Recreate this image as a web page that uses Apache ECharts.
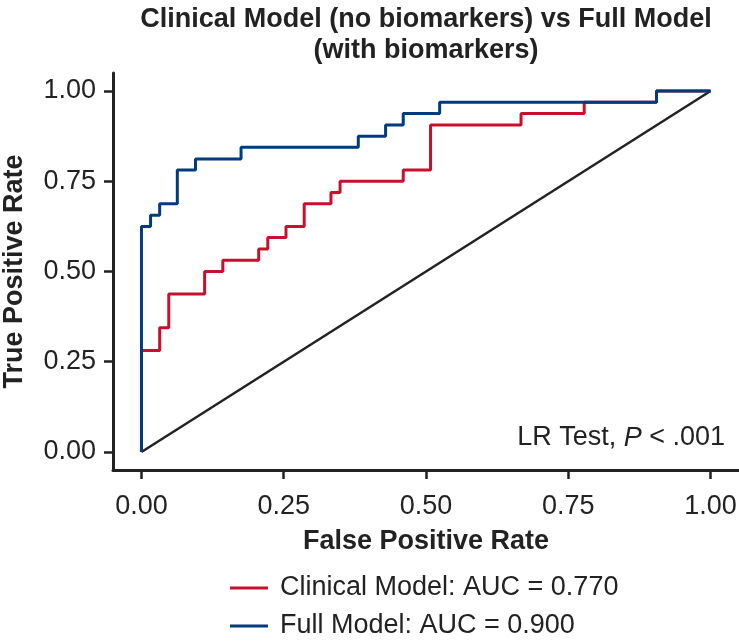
<!DOCTYPE html>
<html>
<head>
    <meta charset="utf-8">
    <title>ROC</title>
    <script src="https://cdn.jsdelivr.net/npm/echarts@6/dist/echarts.min.js"></script>
    <style>
        html, body { margin: 0; padding: 0; background: #fff; }
    </style>
</head>
<body>
    <div id="main" style="width: 739px;height:641px;"></div>

    <script type="text/javascript">
        // ROC points (top of each vertical step)
        var clinicalFpr = [0, 0, 0.032, 0.048, 0.111, 0.143, 0.206, 0.222, 0.254, 0.286, 0.333, 0.349, 0.460, 0.508, 0.667, 0.778, 0.905, 1];
        var clinicalTpr = [0, 0.281, 0.344, 0.438, 0.500, 0.531, 0.562, 0.594, 0.625, 0.688, 0.719, 0.750, 0.781, 0.906, 0.938, 0.969, 1, 1];
        var fullFpr = [0, 0, 0.016, 0.032, 0.063, 0.095, 0.175, 0.381, 0.429, 0.460, 0.524, 0.905, 1];
        var fullTpr = [0, 0.625, 0.656, 0.688, 0.781, 0.812, 0.844, 0.875, 0.906, 0.938, 0.969, 1, 1];
        var chanceLine = [[0, 0], [1, 1]];
        var tickValues = [0, 0.25, 0.5, 0.75, 1];
        var seriesNames = ['Clinical Model: AUC = 0.770', 'Full Model: AUC = 0.900'];

        var font = '"Liberation Sans", Arial, Helvetica, sans-serif';
        var ink = '#222';

        function pairs(xs, ys) {
            return xs.map(function (x, i) { return [x, ys[i]]; });
        }

        var myChart = echarts.init(document.getElementById('main'));

        var axisCommon = {
            type: 'value',
            min: -0.05,
            max: 1.05,
            nameLocation: 'middle',
            nameTextStyle: { fontSize: 27, fontWeight: 'bold', color: ink, fontFamily: font },
            axisLine: { show: true, onZero: false, lineStyle: { color: ink, width: 3 } },
            axisTick: { show: true, length: 9, customValues: tickValues, lineStyle: { color: ink, width: 2.5 } },
            axisLabel: {
                customValues: tickValues,
                fontSize: 27, color: ink, fontFamily: font,
                formatter: function (v) { return v.toFixed(2); }
            },
            splitLine: { show: false }
        };

        var option = {
            animation: false,
            backgroundColor: '#fff',
            title: {
                text: 'Clinical Model (no biomarkers) vs Full Model\n(with biomarkers)',
                left: 426,
                top: 4,
                padding: 0,
                textAlign: 'center',
                textStyle: { fontSize: 27, fontWeight: 'bold', lineHeight: 31, color: ink, fontFamily: font }
            },
            grid: { left: 113, right: 0, top: 73, bottom: 171, containLabel: false, outerBoundsMode: 'none' },
            xAxis: Object.assign({}, axisCommon, {
                name: 'False Positive Rate',
                nameGap: 58,
                axisLabel: Object.assign({}, axisCommon.axisLabel, { margin: 23 })
            }),
            yAxis: Object.assign({}, axisCommon, {
                name: 'True Positive Rate',
                nameGap: 85,
                axisLabel: Object.assign({}, axisCommon.axisLabel, { margin: 17 })
            }),
            legend: {
                data: seriesNames,
                orient: 'vertical',
                left: 230,
                top: 573,
                padding: 0,
                icon: 'rect',
                itemWidth: 38,
                itemHeight: 3,
                itemGap: 8,
                textStyle: { fontSize: 27, lineHeight: 30, color: ink, fontFamily: font, padding: [0, 0, 0, 7] }
            },
            graphic: [{
                type: 'text',
                x: 725,
                y: 438,
                style: {
                    text: '{n|LR Test, }{i|P}{n| < .001}',
                    align: 'right',
                    verticalAlign: 'middle',
                    rich: {
                        n: { fontSize: 27, fill: ink, fontFamily: font },
                        i: { fontSize: 27, fill: ink, fontFamily: font, fontStyle: 'italic' }
                    }
                }
            }],
            series: [{
                name: 'chance',
                type: 'line',
                data: chanceLine,
                symbol: 'none',
                silent: true,
                lineStyle: { color: ink, width: 2.5 }
            }, {
                name: seriesNames[0],
                type: 'line',
                step: 'end',
                data: pairs(clinicalFpr, clinicalTpr),
                symbol: 'none',
                color: '#c8102e',
                lineStyle: { color: '#c8102e', width: 3 }
            }, {
                name: seriesNames[1],
                type: 'line',
                step: 'end',
                data: pairs(fullFpr, fullTpr),
                symbol: 'none',
                color: '#003b7c',
                lineStyle: { color: '#003b7c', width: 3 }
            }]
        };

        myChart.setOption(option);
    </script>
</body>
</html>
